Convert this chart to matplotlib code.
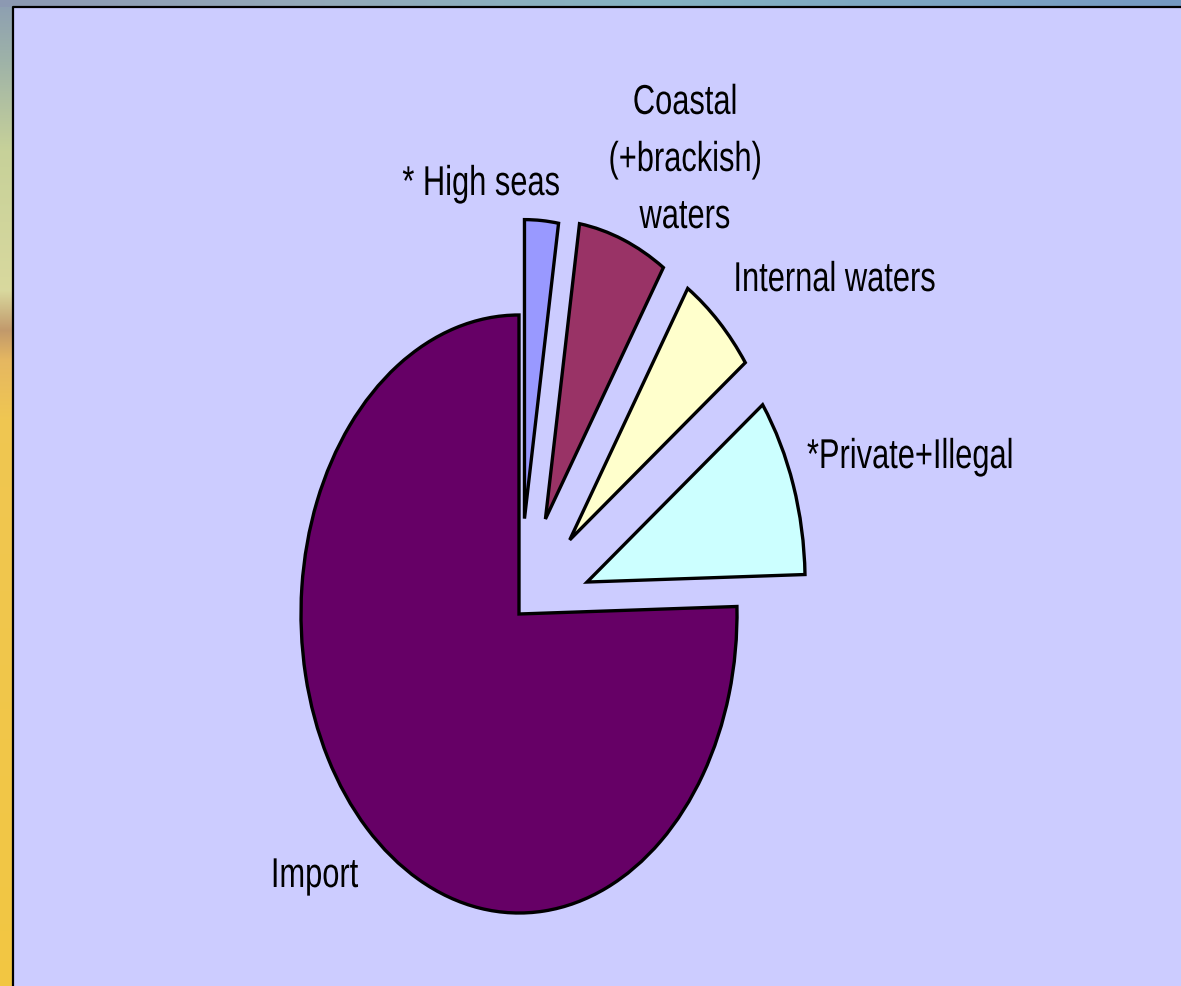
import numpy as np
import matplotlib
matplotlib.use("Agg")
import matplotlib.pyplot as plt
from matplotlib.patheffects import AbstractPathEffect
from matplotlib.transforms import Affine2D

# data (percent of total)
labels = ["* High seas", "Coastal\n(+brackish)\nwaters", "Internal waters",
          "*Private+Illegal", "Import"]
shares = [2.5, 6.6, 5.8, 9.7, 75.4]
explode = [0.32, 0.34, 0.34, 0.33, 0.0]
colors = ["#9999FF", "#993366", "#FFFFCC", "#CCFFFF", "#660066"]

# label anchor points in pixels (x centre, last baseline y from top)
label_px = [(481, 195), (685, 228), (834, 291), (910, 468), (314, 887)]

W, H = 1181, 986
LAV = np.array([0xCC, 0xCC, 0xFF]) / 255.0

plt.rcParams["font.family"] = ["Liberation Sans", "DejaVu Sans"]


class Squeeze(AbstractPathEffect):
    # narrow the glyphs sideways about each line's centre (like Arial Narrow)
    def __init__(self, sx):
        super().__init__()
        self.sx = sx

    def draw_path(self, renderer, gc, tpath, affine, rgbFace=None):
        bb = tpath.get_extents(affine)
        xc = (bb.x0 + bb.x1) / 2
        aff = affine + Affine2D().translate(-xc, 0).scale(self.sx, 1).translate(xc, 0)
        renderer.draw_path(gc, tpath, aff, rgbFace)


fig = plt.figure(figsize=(W / 100, H / 100), dpi=100)

# slide background: lavender plot area with a strip of the slide picture
bg = np.ones((H, W, 3)) * LAV
ys = np.arange(H)
left_keys = [0, 60, 150, 290, 330, 360, 420, 986]
left_cols = np.array([[0.55, 0.62, 0.70], [0.62, 0.70, 0.66], [0.78, 0.82, 0.60],
                      [0.85, 0.85, 0.62], [0.76, 0.60, 0.42], [0.90, 0.72, 0.38],
                      [0.94, 0.78, 0.32], [0.95, 0.78, 0.26]])
for c in range(3):
    bg[:, :13, c] = np.interp(ys, left_keys, left_cols[:, c])[:, None]
xs = np.arange(W)
top_keys = [0, 300, 650, 1181]
top_cols = np.array([[0.55, 0.60, 0.70], [0.58, 0.66, 0.72],
                     [0.52, 0.70, 0.76], [0.46, 0.60, 0.76]])
for c in range(3):
    bg[:7, :, c] = np.interp(xs, top_keys, top_cols[:, c])[None, :]
ax_bg = fig.add_axes([0, 0, 1, 1])
ax_bg.imshow(bg, extent=(0, W, H, 0), aspect="auto", interpolation="nearest")
ax_bg.plot([13, 13, W], [H, 7, 7], color="black", lw=1.6, solid_capstyle="butt")
ax_bg.set_xlim(0, W)
ax_bg.set_ylim(H, 0)
ax_bg.axis("off")

# pie, drawn stretched: 218 px across, 299 px tall per unit radius
cx, cy, rx, ry = 519, 614, 218, 299
ax = fig.add_axes([0, 0, 1, 1])
ax.patch.set_alpha(0)
ax.pie(shares, explode=explode, colors=colors, startangle=90, counterclock=False,
       wedgeprops=dict(edgecolor="black", linewidth=2.4, joinstyle="miter"))
ax.set_aspect("auto")
ax.set_xlim(-cx / rx, (W - cx) / rx)
ax.set_ylim(-(H - cy) / ry, cy / ry)
ax.axis("off")

for lab, (px, py) in zip(labels, label_px):
    fig.text(px / W, 1 - py / H, lab, ha="center", va="baseline",
             multialignment="center", fontsize=30, linespacing=1.55,
             color="black", path_effects=[Squeeze(0.74)])

fig.savefig("out.png", dpi=100)
